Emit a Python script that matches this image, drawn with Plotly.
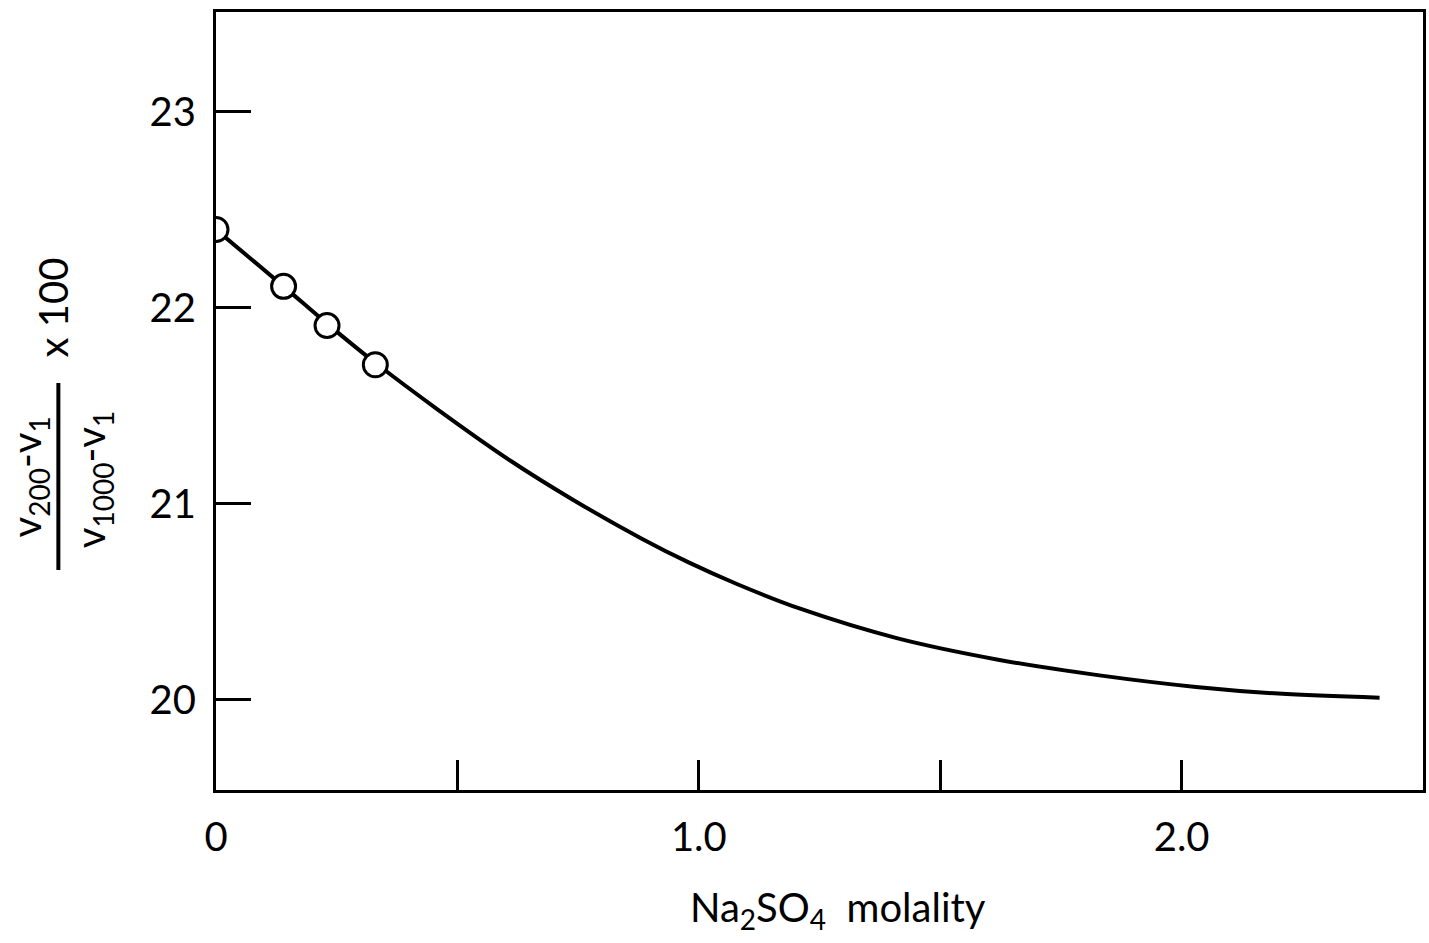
import plotly.graph_objects as go

# Smoothed curve through the relative-volume ratio versus Na2SO4 molality
curve_molality = [0.0, 0.14, 0.23, 0.33, 0.46, 0.61, 0.74, 0.88, 0.98, 1.08, 1.21, 1.41, 1.62, 1.83, 2.03, 2.2, 2.41]
curve_ratio = [22.40, 22.11, 21.92, 21.72, 21.48, 21.22, 21.02, 20.825, 20.70, 20.59, 20.465, 20.315, 20.205, 20.125, 20.066, 20.032, 20.011]

# Measured points (open circles)
point_molality = [0.0, 0.14, 0.23, 0.33]
point_ratio = [22.40, 22.11, 21.91, 21.71]

x_tickvals = [0, 0.5, 1.0, 1.5, 2.0]
x_ticktext = ["0", "", "1.0", "", "2.0"]
y_tickvals = [20, 21, 22, 23]
y_ticktext = ["20", "21", "22", "23"]

FONT = "Lato"
INK = "black"

fig = go.Figure()
fig.add_trace(go.Scatter(
    x=curve_molality, y=curve_ratio, mode="lines",
    line=dict(color=INK, width=4, shape="spline", smoothing=1.0),
    hoverinfo="skip", showlegend=False,
))
fig.add_trace(go.Scatter(
    x=point_molality, y=point_ratio, mode="markers",
    marker=dict(symbol="circle", size=24, color="white", line=dict(color=INK, width=3)),
    showlegend=False,
))

fig.update_layout(
    width=1429, height=943,
    margin=dict(l=216, r=3, t=12, b=153),
    paper_bgcolor="white", plot_bgcolor="white",
    font=dict(family=FONT, color=INK, size=40),
    xaxis=dict(
        range=[0, 2.5], showgrid=False, zeroline=False,
        showline=True, linecolor=INK, linewidth=3, mirror=True,
        ticks="inside", ticklen=30, tickwidth=3, tickcolor=INK,
        tickvals=x_tickvals, ticktext=x_ticktext,
        tickfont=dict(size=40), ticklabelstandoff=10,
    ),
    yaxis=dict(
        range=[19.54, 23.51], showgrid=False, zeroline=False,
        showline=True, linecolor=INK, linewidth=3, mirror=True,
        ticks="inside", ticklen=35, tickwidth=3, tickcolor=INK,
        tickvals=y_tickvals, ticktext=y_ticktext,
        tickfont=dict(size=40), ticklabelstandoff=9,
    ),
)

# x-axis title
fig.add_annotation(
    text="Na<sub>2</sub>SO<sub>4</sub>  molality", xref="paper", yref="paper",
    x=0.5157, y=-0.154, xanchor="center", yanchor="middle",
    showarrow=False, font=dict(size=40),
)

# y-axis title built as a vertical fraction
fig.add_annotation(
    text="v<sub>200</sub>-v<sub>1</sub>", xref="paper", yref="paper",
    x=-0.1554, y=0.4023, xanchor="center", yanchor="middle",
    textangle=-90, showarrow=False, font=dict(size=40),
)
fig.add_annotation(
    text="v<sub>1000</sub>-v<sub>1</sub>", xref="paper", yref="paper",
    x=-0.1017, y=0.3985, xanchor="center", yanchor="middle",
    textangle=-90, showarrow=False, font=dict(size=40),
)
fig.add_annotation(
    text="x 100", xref="paper", yref="paper",
    x=-0.1347, y=0.6208, xanchor="center", yanchor="middle",
    textangle=-90, showarrow=False, font=dict(size=40),
)
fig.add_shape(
    type="line", xref="paper", yref="paper",
    x0=-0.1306, x1=-0.1306, y0=0.2828, y1=0.5231,
    line=dict(color=INK, width=4),
)

fig.write_html("out.html")
